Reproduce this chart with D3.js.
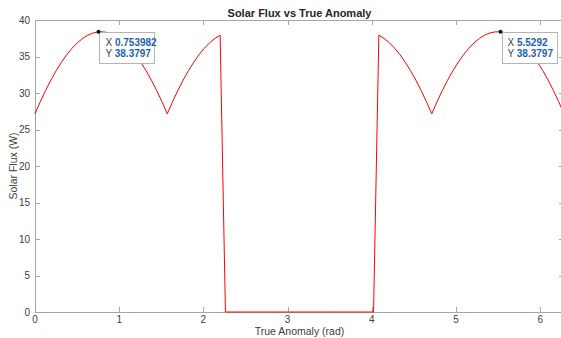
<!DOCTYPE html>
<html>
<head>
<meta charset="utf-8">
<script src="https://cdn.jsdelivr.net/npm/d3@7"></script>
<style>
  body { margin: 0; background: #fff; }
  svg { display: block; font-family: "Liberation Sans", Arial, sans-serif; }
</style>
</head>
<body>
<div id="chart"></div>
<script>
// true anomaly samples (rad)
const anomaly = [0, 0.0628, 0.1257, 0.1885, 0.2513, 0.3142, 0.3770, 0.4398, 0.5027, 0.5655,
  0.6283, 0.6912, 0.7540, 0.8168, 0.8796, 0.9425, 1.0053, 1.0681, 1.1310, 1.1938,
  1.2566, 1.3195, 1.3823, 1.4451, 1.5080, 1.5708, 1.6336, 1.6965, 1.7593, 1.8221,
  1.8850, 1.9478, 2.0106, 2.0735, 2.1363, 2.1991, 2.2619, 2.3248, 2.3876, 2.4504,
  2.5133, 2.5761, 2.6389, 2.7018, 2.7646, 2.8274, 2.8903, 2.9531, 3.0159, 3.0788,
  3.1416, 3.2044, 3.2673, 3.3301, 3.3929, 3.4558, 3.5186, 3.5814, 3.6442, 3.7071,
  3.7699, 3.8327, 3.8956, 3.9584, 4.0212, 4.0841, 4.1469, 4.2097, 4.2726, 4.3354,
  4.3982, 4.4611, 4.5239, 4.5867, 4.6496, 4.7124, 4.7752, 4.8381, 4.9009, 4.9637,
  5.0265, 5.0894, 5.1522, 5.2150, 5.2779, 5.3407, 5.4035, 5.4664, 5.5292, 5.5920,
  5.6549, 5.7177, 5.7805, 5.8434, 5.9062, 5.9690, 6.0319, 6.0947, 6.1575, 6.2204, 6.2832];

// solar flux (W)
const flux = [27.15, 28.80, 30.34, 31.76, 33.05, 34.21, 35.24, 36.13, 36.87, 37.47,
  37.92, 38.23, 38.3797, 38.37, 38.23, 37.92, 37.47, 36.87, 36.13, 35.24,
  34.21, 33.05, 31.76, 30.34, 28.80, 27.15, 28.80, 30.34, 31.76, 33.05,
  34.21, 35.24, 36.13, 36.87, 37.47, 37.92, 0, 0, 0, 0,
  0, 0, 0, 0, 0, 0, 0, 0, 0, 0,
  0, 0, 0, 0, 0, 0, 0, 0, 0, 0,
  0, 0, 0, 0, 0, 37.92, 37.47, 36.87, 36.13, 35.24,
  34.21, 33.05, 31.76, 30.34, 28.80, 27.15, 28.80, 30.34, 31.76, 33.05,
  34.21, 35.24, 36.13, 36.87, 37.47, 37.92, 38.23, 38.37, 38.3797, 38.23,
  37.92, 37.47, 36.87, 36.13, 35.24, 34.21, 33.05, 31.76, 30.34, 28.80, 27.15];

const xTicks = [0, 1, 2, 3, 4, 5, 6];
const yTicks = [0, 5, 10, 15, 20, 25, 30, 35, 40];

// data tips: [anomaly, flux]
const tips = [
  { x: 0.753982, y: 38.3797, label: ['0.753982', '38.3797'] },
  { x: 5.5292, y: 38.3797, label: ['5.5292', '38.3797'] }
];

const W = 561, H = 338;
const margin = { top: 20, left: 35, bottom: 26 };
const plotRight = 564; // axis box runs just past the window edge

const svg = d3.select('#chart').append('svg')
  .attr('width', W)
  .attr('height', H);

const x = d3.scaleLinear().domain([0, 2 * Math.PI]).range([margin.left, plotRight]);
const y = d3.scaleLinear().domain([0, 40]).range([H - margin.bottom, margin.top]);

const axisColor = '#a6a6a6';
const textColor = '#404040';

// axis box
svg.append('rect')
  .attr('x', x(0) + 0.5)
  .attr('y', y(40) + 0.5)
  .attr('width', x(2 * Math.PI) - x(0))
  .attr('height', y(0) - y(40))
  .attr('fill', 'none')
  .attr('stroke', axisColor);

// bottom + top ticks
const xAxis = svg.append('g');
xAxis.selectAll('.xt')
  .data(xTicks)
  .enter().append('path')
  .attr('d', d => `M${Math.round(x(d)) + 0.5},${y(0)}v-5M${Math.round(x(d)) + 0.5},${y(40)}v5`)
  .attr('stroke', axisColor);
xAxis.selectAll('.xl')
  .data(xTicks)
  .enter().append('text')
  .attr('x', d => x(d))
  .attr('y', y(0) + 10.5)
  .attr('text-anchor', 'middle')
  .attr('font-size', 10)
  .attr('fill', textColor)
  .text(d => d);

// left + right ticks
const yAxis = svg.append('g');
yAxis.selectAll('.yt')
  .data(yTicks)
  .enter().append('path')
  .attr('d', d => `M${x(0)},${Math.round(y(d)) + 0.5}h5M${plotRight},${Math.round(y(d)) + 0.5}h-5`)
  .attr('stroke', axisColor);
yAxis.selectAll('.yl')
  .data(yTicks)
  .enter().append('text')
  .attr('x', x(0) - 5)
  .attr('y', d => y(d) + 3.5)
  .attr('text-anchor', 'end')
  .attr('font-size', 10)
  .attr('fill', textColor)
  .text(d => d);

// flux curve
const pts = anomaly.map((a, i) => [a, flux[i]]);
svg.append('path')
  .datum(pts)
  .attr('d', d3.line().x(d => x(d[0])).y(d => y(d[1])))
  .attr('fill', 'none')
  .attr('stroke', '#ff0000')
  .attr('stroke-width', 1);

// title and labels
svg.append('text')
  .attr('x', (x(0) + plotRight) / 2)
  .attr('y', 17)
  .attr('text-anchor', 'middle')
  .attr('font-size', 11)
  .attr('font-weight', 'bold')
  .attr('fill', '#262626')
  .text('Solar Flux vs True Anomaly');

svg.append('text')
  .attr('x', (x(0) + plotRight) / 2)
  .attr('y', 335)
  .attr('text-anchor', 'middle')
  .attr('font-size', 10.5)
  .attr('fill', textColor)
  .text('True Anomaly (rad)');

svg.append('text')
  .attr('transform', `translate(17,${(y(0) + y(40)) / 2}) rotate(-90)`)
  .attr('text-anchor', 'middle')
  .attr('font-size', 10.5)
  .attr('fill', textColor)
  .text('Solar Flux (W)');

// data tips
tips.forEach(t => {
  const px = x(t.x), py = y(t.y);
  const g = svg.append('g');
  g.append('rect')
    .attr('x', Math.round(px) + 1.5)
    .attr('y', Math.round(py) + 0.5)
    .attr('width', 55)
    .attr('height', 31)
    .attr('fill', '#fff')
    .attr('stroke', '#b4b4b4');
  ['X', 'Y'].forEach((k, i) => {
    const txt = g.append('text')
      .attr('x', px + 7)
      .attr('y', py + 14 + i * 11)
      .attr('font-size', 10);
    txt.append('tspan').attr('fill', textColor).text(k + ' ');
    txt.append('tspan').attr('fill', '#1a5fb4').attr('font-weight', 'bold').text(t.label[i]);
  });
  g.append('circle')
    .attr('cx', px)
    .attr('cy', py)
    .attr('r', 2)
    .attr('fill', '#111');
});
</script>
</body>
</html>
